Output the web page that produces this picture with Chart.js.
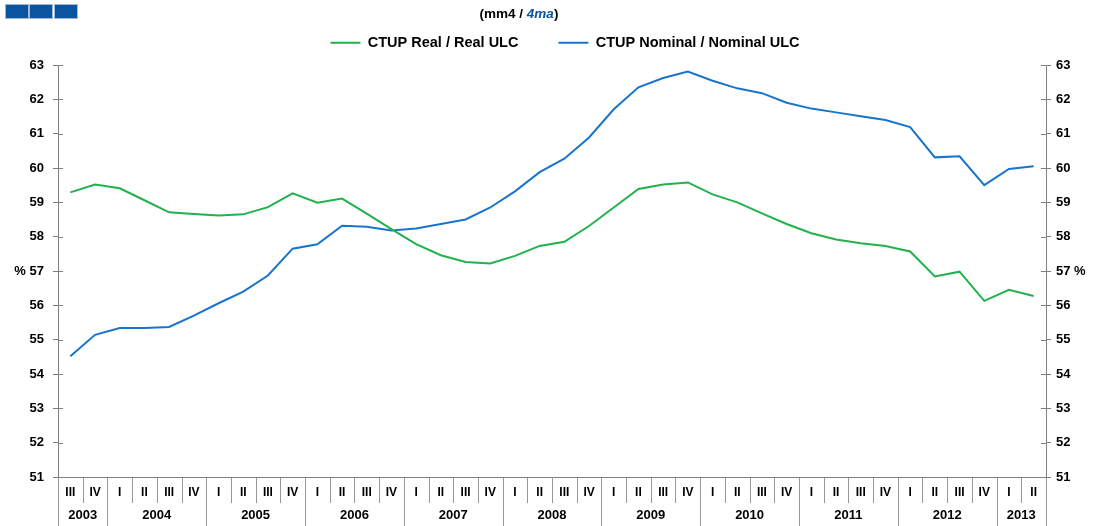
<!DOCTYPE html>
<html><head><meta charset="utf-8">
<script src="https://cdn.jsdelivr.net/npm/chart.js@4.4.1/dist/chart.umd.min.js"></script>
<style>
html,body{margin:0;padding:0;background:#fff;}
#wrap{position:relative;width:1097px;height:526px;overflow:hidden;}
#c{position:absolute;left:0;top:0;}
.sq{position:absolute;top:5px;width:22px;height:13px;background:#0b55a0;box-shadow:0 0 0 1px #9fb8d6;}
#title{position:absolute;top:6px;left:0;width:1038px;text-align:center;font:bold 13.5px "Liberation Sans",Arial,sans-serif;color:#000;}
#title i{color:#0b55a0;}
</style>
</head><body>
<div id="wrap">
<canvas id="c" width="1097" height="526"></canvas>
<div class="sq" style="left:6px"></div><div class="sq" style="left:30px"></div><div class="sq" style="left:55px"></div>
<div id="title">(mm4 / <i>4ma</i>)</div>
</div>
<script>
const quarterLabels = ['III','IV',
 'I','II','III','IV','I','II','III','IV','I','II','III','IV','I','II','III','IV',
 'I','II','III','IV','I','II','III','IV','I','II','III','IV','I','II','III','IV',
 'I','II','III','IV','I','II'];
const categoryYears = ['2003','2003',
 '2004','2004','2004','2004','2005','2005','2005','2005','2006','2006','2006','2006','2007','2007','2007','2007',
 '2008','2008','2008','2008','2009','2009','2009','2009','2010','2010','2010','2010','2011','2011','2011','2011',
 '2012','2012','2012','2012','2013','2013'];
const realSeries = [59.29,59.52,59.41,59.06,58.71,58.66,58.62,58.65,58.86,59.26,
 58.99,59.11,58.67,58.22,57.78,57.46,57.26,57.22,57.44,57.73,
 57.85,58.31,58.85,59.39,59.52,59.58,59.23,59.00,58.68,58.37,
 58.10,57.92,57.81,57.73,57.57,56.84,56.98,56.13,56.45,56.27];
const nominalSeries = [54.52,55.14,55.34,55.34,55.37,55.70,56.06,56.40,56.87,57.65,
 57.78,58.32,58.29,58.18,58.24,58.37,58.50,58.85,59.32,59.88,
 60.27,60.89,61.71,62.35,62.62,62.81,62.54,62.32,62.18,61.90,
 61.73,61.62,61.51,61.40,61.19,60.31,60.34,59.50,59.97,60.05];
const yMin = 51, yMax = 63, yStep = 1, percentTick = 57;

const FONT = '"Liberation Sans", Arial, sans-serif';
const AXIS = '#808080';

const legendSpace = {
  id:'legendSpace',
  beforeInit(chart){
    const lg = chart.legend;
    if (lg && !lg._patched){
      const f = lg.fit;
      lg.fit = function(){ f.call(this); this.height = 69.5; };
      lg._patched = true;
    }
  }
};

const axisDecor = {
  id:'axisDecor',
  afterDraw(chart){
    const {ctx, chartArea:{left,right,top,bottom}, scales:{x,y}} = chart;
    ctx.save();
    ctx.strokeStyle = AXIS; ctx.lineWidth = 1;
    ctx.beginPath();
    y.ticks.forEach(t=>{
      const py = Math.round(y.getPixelForValue(t.value))+0.5;
      ctx.moveTo(left,py); ctx.lineTo(left+5,py);
      ctx.moveTo(right-5,py); ctx.lineTo(right,py);
    });
    ctx.stroke();
    const n = quarterLabels.length;
    const half = (x.getPixelForValue(1)-x.getPixelForValue(0))/2;
    const bnd = b => Math.round(b<n ? x.getPixelForValue(b)-half : x.getPixelForValue(n-1)+half)+0.5;
    ctx.strokeStyle = '#999';
    ctx.beginPath();
    for (let b=0;b<=n;b++){
      const px = bnd(b);
      ctx.moveTo(px,bottom+1); ctx.lineTo(px,bottom+26);
      if (b===0 || b===n || categoryYears[b]!==categoryYears[b-1]){
        ctx.moveTo(px,bottom+26); ctx.lineTo(px,bottom+49);
      }
    }
    ctx.stroke();
    ctx.fillStyle='#000';
    ctx.font = 'bold 13px '+FONT;
    ctx.textAlign='center'; ctx.textBaseline='middle';
    let s=0;
    for (let i=1;i<=n;i++){
      if (i===n || categoryYears[i]!==categoryYears[s]){
        const cx = (x.getPixelForValue(s)+x.getPixelForValue(i-1))/2;
        ctx.fillText(categoryYears[s], cx, bottom+38);
        s=i;
      }
    }
    ctx.restore();
  }
};

const yCommon = {
  min:yMin, max:yMax,
  grid:{drawOnChartArea:false, tickLength:5, color:AXIS},
  border:{color:AXIS},
  ticks:{stepSize:yStep, color:'#000', padding:9, font:{family:FONT,size:13,weight:'bold'}}
};

new Chart(document.getElementById('c'), {
  type:'line',
  data:{
    labels:quarterLabels,
    datasets:[
      {label:'CTUP Real / Real ULC', data:realSeries, borderColor:'#22B14C', backgroundColor:'#22B14C', borderWidth:2, pointRadius:0, tension:0, yAxisID:'y'},
      {label:'CTUP Nominal / Nominal ULC', data:nominalSeries, borderColor:'#1874CD', backgroundColor:'#1874CD', borderWidth:2, pointRadius:0, tension:0, yAxisID:'y'}
    ]
  },
  options:{
    responsive:false, animation:false,
    layout:{padding:{top:-4.5,left:0,right:-33,bottom:0}},
    plugins:{
      legend:{display:true, position:'top', labels:{usePointStyle:true, pointStyle:'line', pointStyleWidth:30, padding:40, color:'#000', font:{family:FONT,size:14.5,weight:'bold'}}},
      title:{display:false},
      tooltip:{enabled:false}
    },
    scales:{
      x:{type:'category', offset:true,
        grid:{display:false},
        border:{display:true,color:AXIS},
        ticks:{autoSkip:false, maxRotation:0, minRotation:0, padding:0, color:'#000', font:{family:FONT,size:12,weight:'bold'}},
        afterFit(s){ s.height = 49; }
      },
      y:Object.assign({}, yCommon, {position:'left',
        ticks:Object.assign({}, yCommon.ticks, {callback:v=> v===percentTick ? '% '+v : ''+v}),
        afterFit(s){ s.width = 58; }}),
      y2:Object.assign({}, yCommon, {position:'right',
        ticks:Object.assign({}, yCommon.ticks, {padding:5, callback:v=> v===percentTick ? v+' %' : ''+v}),
        afterFit(s){ s.width = 84; }})
    }
  },
  plugins:[legendSpace, axisDecor]
});
</script>
</body></html>
